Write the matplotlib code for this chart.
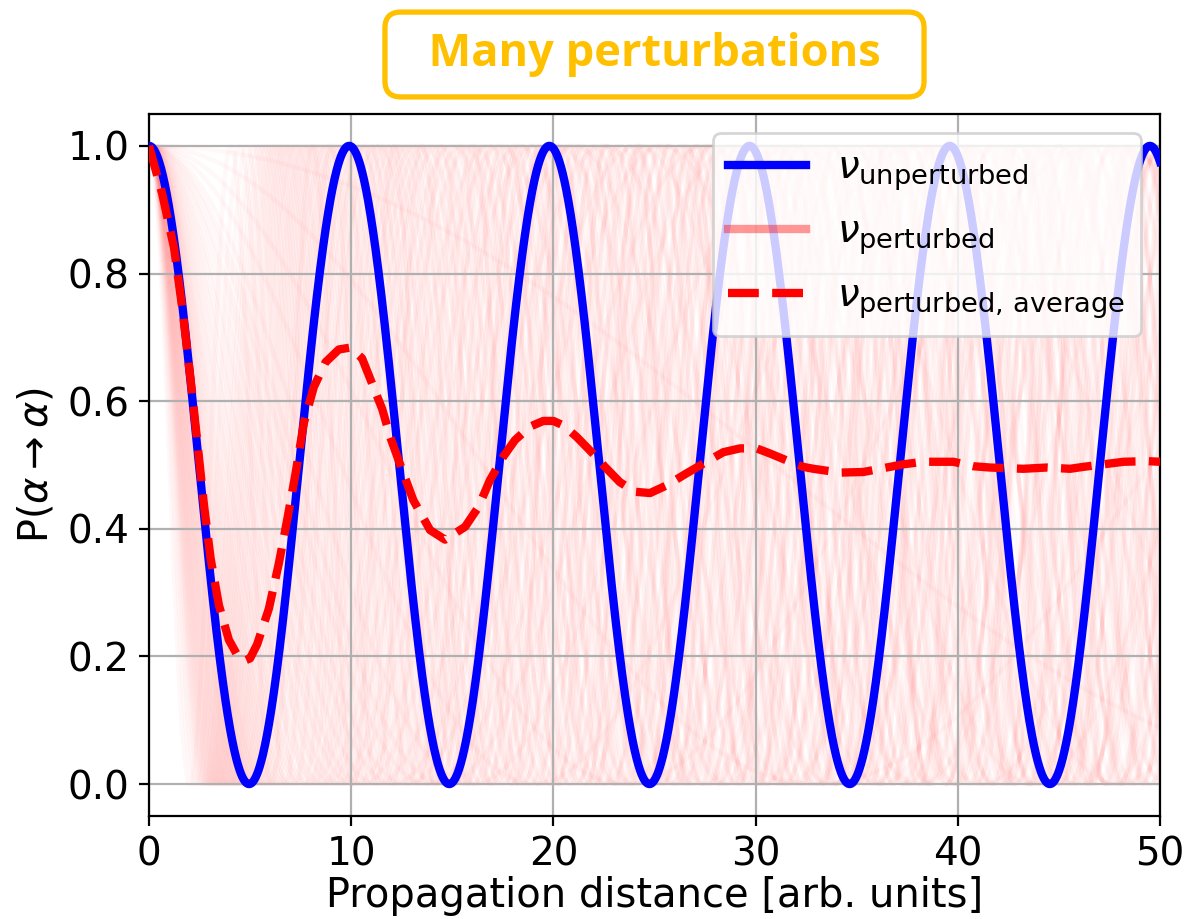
import numpy as np
import matplotlib
matplotlib.use("Agg")
import matplotlib.pyplot as plt
from matplotlib.lines import Line2D

# ---------------- data ----------------
x_range = (0, 50)
osc_length_unperturbed = 9.9          # distance between maxima of the blue curve

# frequency of each perturbed neutrino relative to the unperturbed one (faint red lines)
freq_ratios_perturbed = [
    0.31, 0.34, 0.36, 0.39, 0.41, 0.44, 0.47, 0.49, 0.52, 0.54,
    0.57, 0.59, 0.62, 0.64, 0.66, 0.69, 0.71, 0.73, 0.75, 0.77,
    0.79, 0.81, 0.83, 0.85, 0.87, 0.88, 0.90, 0.92, 0.93, 0.95,
    0.96, 0.98, 0.99, 1.01, 1.02, 1.04, 1.05, 1.07, 1.08, 1.10,
    1.12, 1.13, 1.15, 1.17, 1.19, 1.21, 1.23, 1.25, 1.27, 1.29,
    1.31, 1.34, 1.36, 1.38, 1.41, 1.43, 1.46, 1.48, 1.51, 1.54,
    1.57, 1.60, 1.63, 1.67, 1.71, 1.75, 1.80, 1.86, 1.93, 2.05,
    2.20, 2.45, 0.26, 0.21, 0.15, 0.08,
]

# average of the perturbed probabilities
avg_x = [0, 0.66, 1.24, 1.65, 2.06, 2.44, 2.72, 3.05, 3.46, 3.95, 4.35, 4.7,
         5.0, 5.35, 5.93, 6.43, 6.84, 7.25, 7.66, 8.15, 8.73, 9.39, 9.97,
         10.54, 11.04, 11.53, 11.94, 12.44, 13.07, 13.9, 14.64, 15.63, 16.29,
         16.86, 17.52, 18.1, 18.84, 19.5, 20.0, 20.49, 21.15, 21.89, 22.55,
         23.29, 24.04, 24.78, 25.6, 26.59, 27.41, 28.4, 29.23, 30.05, 30.71,
         31.7, 32.36, 32.86, 34.17, 35.33, 36.15, 37.3, 38.3, 39.78, 40.77,
         41.59, 43.24, 44.4, 45.55, 46.2, 47.2, 48.2, 49.35, 50.0]
avg_p = [1.0, 0.924, 0.84, 0.745, 0.633, 0.521, 0.437, 0.353, 0.28, 0.226, 0.203, 0.193,
         0.197, 0.219, 0.275, 0.347, 0.415, 0.487, 0.566, 0.622, 0.661, 0.681, 0.684,
         0.667, 0.627, 0.588, 0.543, 0.499, 0.445, 0.398, 0.383, 0.403, 0.434,
         0.476, 0.513, 0.539, 0.560, 0.569, 0.569, 0.562, 0.544, 0.520, 0.497,
         0.473, 0.458, 0.456, 0.468, 0.487, 0.502, 0.520, 0.526, 0.526, 0.518,
         0.505, 0.497, 0.494, 0.488, 0.489, 0.494, 0.501, 0.505, 0.505, 0.498,
         0.496, 0.494, 0.496, 0.494, 0.497, 0.501, 0.505, 0.506, 0.505]

title_text = "Many perturbations"
xlabel_text = "Propagation distance [arb. units]"
ylabel_text = r"P($\alpha \rightarrow \alpha$)"
legend_labels = [r"$\nu_{\rm unperturbed}$", r"$\nu_{\rm perturbed}$",
                 r"$\nu_{\rm perturbed,\,average}$"]

# ---------------- figure ----------------
plt.rcParams["font.family"] = ["DejaVu Sans"]
fig = plt.figure(figsize=(5.95, 4.595), dpi=200)
ax = fig.add_axes([0.1252, 0.1121, 0.8496, 0.7639])

x = np.linspace(x_range[0], x_range[1], 3000)
for r in freq_ratios_perturbed:
    ax.plot(x, np.cos(np.pi * x * r / osc_length_unperturbed) ** 2,
            color="red", alpha=0.028, lw=1.6, zorder=1)

ax.plot(x, np.cos(np.pi * x / osc_length_unperturbed) ** 2, color="blue", lw=3, zorder=3)
ax.plot(avg_x, avg_p, color="red", ls="--", lw=3, zorder=4)

ax.set_xlim(*x_range)
ax.set_ylim(-0.05, 1.05)
ax.set_xticks([0, 10, 20, 30, 40, 50])
ax.set_yticks([0.0, 0.2, 0.4, 0.6, 0.8, 1.0])
ax.tick_params(labelsize=14)
ax.grid(True, zorder=2)
ax.set_xlabel(xlabel_text, fontsize=14.4, labelpad=1)
ax.set_ylabel(ylabel_text, fontsize=14.4)

handles = [Line2D([], [], color="blue", lw=3),
           Line2D([], [], color="red", lw=3, alpha=0.4),
           Line2D([], [], color="red", lw=3, ls="--")]
ax.legend(handles, legend_labels, loc="upper right", fontsize=14)

fig.text((149 + 1160) / 2 / 1190, 1 - 54.5 / 919, "  " + title_text + "  ",
         ha="center", va="center", fontsize=16.3, fontweight="bold",
         family=["Open Sans", "DejaVu Sans"], color="#FFC000",
         bbox=dict(boxstyle="round,pad=0.44,rounding_size=0.35", fc="white",
                   ec="#FFC000", lw=1.9))

fig.savefig("out.png", dpi=200)
